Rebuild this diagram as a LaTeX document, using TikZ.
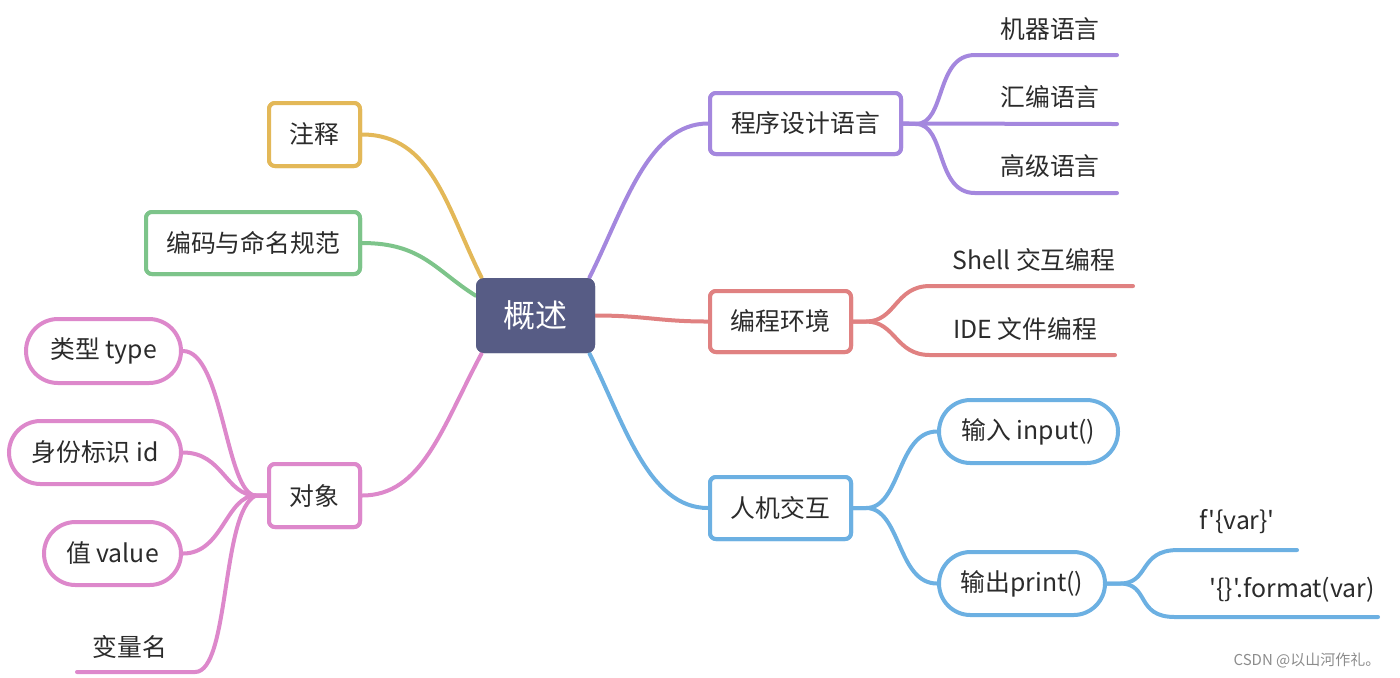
\documentclass[tikz,border=0pt]{standalone}
\usepackage{fontspec}
\setmainfont{Noto Sans CJK SC}[Ligatures=TeXOff]
\usetikzlibrary{shapes.misc}
\definecolor{cen}{HTML}{575C85}
\definecolor{cpur}{HTML}{A487DE}
\definecolor{cred}{HTML}{E08181}
\definecolor{cblu}{HTML}{6CB0E2}
\definecolor{cyel}{HTML}{E3B858}
\definecolor{cgrn}{HTML}{7DC48A}
\definecolor{cpnk}{HTML}{DD88CB}
\definecolor{ctxt}{HTML}{2B2B2B}
\begin{document}
\begin{tikzpicture}[x=0.5pt,y=-0.5pt,
  every node/.style={font=\fontsize{12.4pt}{14pt}\selectfont, text=ctxt, inner sep=0pt},
  topic/.style={draw=#1, line width=2pt, fill=white, rounded corners=3pt, minimum height=30.5pt},
  pill/.style={draw=#1, line width=2pt, fill=white, rounded rectangle, minimum height=31.5pt},
  con/.style={draw=#1, line width=2pt, line cap=round, line join=round},
]
\useasboundingbox (0,0) rectangle (1400,677);

% node positions (placeholders, drawn on top later)
\coordinate (c) at (535.5,315.5);
\coordinate (pc) at (805.5,123.5);
\coordinate (ec) at (780.5,321.5);
\coordinate (hc) at (780.5,508);
\coordinate (zc) at (314.5,134.5);
\coordinate (bc) at (253,243);
\coordinate (dc) at (314.5,495.5);

% central node
\node[fill=cen, rounded corners=4pt, minimum width=59.5pt, minimum height=37.5pt,
      text=white, font=\fontsize{16pt}{18pt}\selectfont] (c) at (c) {概述};

% right side topics
\node[topic=cpur, minimum width=95.5pt] (p) at (pc) {程序设计语言};
\node[topic=cred, minimum width=70.5pt] (e) at (ec) {编程环境};
\node[topic=cblu, minimum width=70.5pt, minimum height=31pt] (h) at (hc) {人机交互};

% left side topics
\node[topic=cyel, minimum width=45.5pt, minimum height=31.5pt] (z) at (zc) {注释};
\node[topic=cgrn, minimum width=107pt, minimum height=31pt] (b) at (bc) {编码与命名规范};
\node[topic=cpnk, minimum width=45.5pt, minimum height=31.5pt] (d) at (dc) {对象};

% pills
\node[pill=cblu, minimum width=89.5pt] (i) at (1028.5,431.5) {输入 input()};
\node[pill=cblu, minimum width=83pt] (o) at (1022,583.5) {输出print()};
\node[pill=cpnk, minimum width=77.5pt, minimum height=32pt] (t) at (103.5,351) {类型 type};
\node[pill=cpnk, minimum width=86pt] (s) at (95,452.5) {身份标识 id};
\node[pill=cpnk, minimum width=68.5pt] (v) at (112.5,553.5) {值 value};

% leaf texts
\node (m1) at (1050,29) {机器语言};
\node (m2) at (1050,97) {汇编语言};
\node (r1) at (1034,260) {Shell 交互编程};
\node (r2) at (1025,329) {IDE 文件编程};
\node (m3) at (1050,166) {高级语言};
\node (f1) at (1237,522) {f'\{var\}'};
\node (f2) at (1292,590) {'\{\}'.format(var)};
\node (n1) at (130,647) {变量名};

% leaf underline coordinates
\coordinate (m1a) at (975,55);  \coordinate (m1b) at (1117,55);
\coordinate (m2b) at (1117,124);
\coordinate (m3a) at (975,193); \coordinate (m3b) at (1117,193);
\coordinate (r1a) at (930,286); \coordinate (r1b) at (1133,286);
\coordinate (r2a) at (930,355); \coordinate (r2b) at (1115,355);
\coordinate (f1a) at (1178,550); \coordinate (f1b) at (1297,550);
\coordinate (f2a) at (1175,617); \coordinate (f2b) at (1378,617);
\coordinate (n1a) at (195,672); \coordinate (n1b) at (77,672);

% branch points
\coordinate (pb) at (916,124);
\coordinate (eb) at (866,321.5);
\coordinate (hb) at (866,508);
\coordinate (ob) at (1120,583.5);
\coordinate (db) at (256,495.5);

% central connectors
\draw[con=cpur] ([xshift=-3pt]c.north east) .. controls +(35,-70) and +(-60,0) .. (p.west);
\draw[con=cred] (c.east) .. controls +(50,0) and +(-50,0) .. (e.west);
\draw[con=cblu] ([xshift=-3pt]c.south east) .. controls +(35,70) and +(-60,0) .. (h.west);
\draw[con=cyel] (z.east) .. controls +(70,0) and +(-35,-70) .. ([xshift=3pt]c.north west);
\draw[con=cgrn] (b.east) .. controls +(60,0) and +(-40,-25) .. ([yshift=-9pt]c.north west);
\draw[con=cpnk] (d.east) .. controls +(60,0) and +(-40,75) .. ([xshift=3pt]c.south west);

% purple leaves
\draw[con=cpur] (p.east) -- (pb) .. controls +(30,0) and +(-40,0) .. (m1a) -- (m1b);
\draw[con=cpur] (p.east) -- (m2b);
\draw[con=cpur] (p.east) -- (pb) .. controls +(30,0) and +(-40,0) .. (m3a) -- (m3b);

% red leaves
\draw[con=cred] (e.east) -- (eb) .. controls +(30,0) and +(-35,0) .. (r1a) -- (r1b);
\draw[con=cred] (e.east) -- (eb) .. controls +(30,0) and +(-35,0) .. (r2a) -- (r2b);

% blue children
\draw[con=cblu] (h.east) -- (hb) .. controls +(35,0) and +(-40,0) .. (i.west);
\draw[con=cblu] (h.east) -- (hb) .. controls +(35,0) and +(-40,0) .. (o.west);
\draw[con=cblu] (o.east) -- (ob) .. controls +(30,0) and +(-40,0) .. (f1a) -- (f1b);
\draw[con=cblu] (o.east) -- (ob) .. controls +(30,0) and +(-40,0) .. (f2a) -- (f2b);

% pink children
\draw[con=cpnk] (d.west) -- (db) .. controls +(-30,0) and +(40,0) .. (t.east);
\draw[con=cpnk] (d.west) -- (db) .. controls +(-30,0) and +(40,0) .. (s.east);
\draw[con=cpnk] (d.west) -- (db) .. controls +(-30,0) and +(40,0) .. (v.east);
\draw[con=cpnk] (d.west) -- (db) .. controls +(-35,15) and +(35,0) .. (n1a) -- (n1b);

% nodes again on top of connectors
\node[fill=cen, rounded corners=4pt, minimum width=59.5pt, minimum height=37.5pt,
      text=white, font=\fontsize{16pt}{18pt}\selectfont] at (c.center) {概述};
\node[topic=cpur, minimum width=95.5pt] at (p.center) {程序设计语言};
\node[topic=cred, minimum width=70.5pt] at (e.center) {编程环境};
\node[topic=cblu, minimum width=70.5pt, minimum height=31pt] at (h.center) {人机交互};
\node[topic=cyel, minimum width=45.5pt, minimum height=31.5pt] at (z.center) {注释};
\node[topic=cgrn, minimum width=107pt, minimum height=31pt] at (b.center) {编码与命名规范};
\node[topic=cpnk, minimum width=45.5pt, minimum height=31.5pt] at (d.center) {对象};

% watermark
\node[font=\fontsize{7.5pt}{9pt}\selectfont, text=black!45] (wm) at (1307,660) {CSDN @以山河作礼。};
\end{tikzpicture}
\end{document}
